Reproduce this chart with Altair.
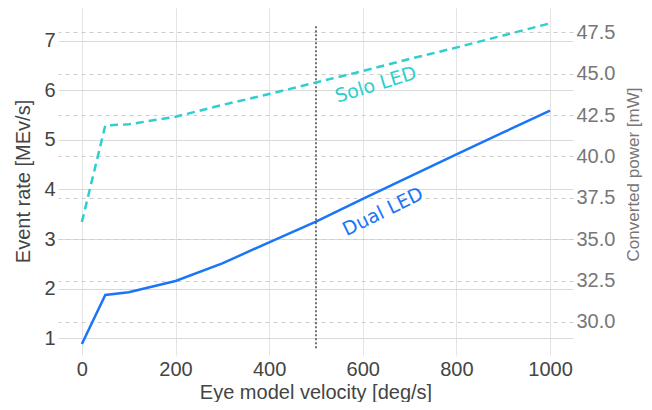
import altair as alt
import pandas as pd

# ---- data ----
velocity = [0, 50, 100, 200, 300, 400, 500, 600, 700, 800, 900, 1000]
dual_rate = [0.885, 1.873, 1.93, 2.155, 2.51, 2.935, 3.35, 3.81, 4.26, 4.71, 5.15, 5.59]
solo_power = [36.04, 41.87, 41.94, 42.40, 43.11, 43.77, 44.47, 45.16, 45.89, 46.58, 47.31, 48.04]

marker_velocity = [500]
marker_rate_low = [0.8]
marker_rate_high = [7.3]

x_ticks = [0, 200, 400, 600, 800, 1000]
left_ticks = [1, 2, 3, 4, 5, 6, 7]
right_ticks = [30.0, 32.5, 35.0, 37.5, 40.0, 42.5, 45.0, 47.5]

solo_label = ["Solo LED"]
solo_label_velocity = [628]
solo_label_rate = [6.11]
dual_label = ["Dual LED"]
dual_label_velocity = [643]
dual_label_rate = [3.55]

# ---- tables ----
dual_df = pd.DataFrame({"v": velocity, "rate": dual_rate})
solo_df = pd.DataFrame({"v": velocity, "power": solo_power})
marker_df = pd.DataFrame({"v": marker_velocity, "rate": marker_rate_low, "rate2": marker_rate_high})
solo_lab_df = pd.DataFrame({"v": solo_label_velocity, "rate": solo_label_rate, "t": solo_label})
dual_lab_df = pd.DataFrame({"v": dual_label_velocity, "rate": dual_label_rate, "t": dual_label})

W, H = 515, 347
FONT = "Liberation Sans"
BLUE = "#1a75f8"
TEAL = "#2dcfcf"

x_scale = alt.Scale(domain=[-51, 1049], nice=False, zero=False)
left_scale = alt.Scale(domain=[0.663, 7.659], nice=False, zero=False)
right_scale = alt.Scale(domain=[28.006, 48.968], nice=False, zero=False)

x_axis = alt.Axis(
    values=x_ticks, format="d", title="Eye model velocity [deg/s]", grid=True, gridColor="#e3e3e3",
    domain=False, ticks=False, labelPadding=4, labelFont=FONT, labelFontSize=20,
    labelColor="#444", titleFont=FONT, titleFontSize=20, titleFontWeight="normal",
    titleColor="#444", titleBaseline="alphabetic", titleAlign="center",
    titleX=W / 2, titleY=43,
)
left_axis = alt.Axis(
    values=left_ticks, title="Event rate [MEv/s]", grid=True, gridColor="#dadada",
    domain=False, ticks=False, labelPadding=3, labelFont=FONT, labelFontSize=20,
    labelColor="#444", titleFont=FONT, titleFontSize=20, titleFontWeight="normal",
    titleColor="#444", titleAngle=270, titleAlign="center", titleBaseline="alphabetic",
    titleX=-29, titleY=173,
)
right_axis = alt.Axis(
    orient="right", values=right_ticks, format=".1f", title="Converted power [mW]",
    grid=True, gridColor="#cccccc", gridDash=[4, 4], domain=False, ticks=False,
    labelPadding=3, labelFont=FONT, labelFontSize=20, labelColor="#777",
    titleFont=FONT, titleFontSize=17, titleFontWeight="normal", titleColor="#777",
    titleAngle=270, titleAlign="center", titleBaseline="alphabetic",
    titleX=65, titleY=166,
)

X = alt.X("v:Q", scale=x_scale, axis=x_axis)
Y_left = alt.Y("rate:Q", scale=left_scale, axis=left_axis)

dual = alt.Chart(dual_df).mark_line(color=BLUE, strokeWidth=2.5).encode(x=X, y=Y_left)
marker = alt.Chart(marker_df).mark_rule(color="#444", strokeWidth=1.5, strokeDash=[2, 2]).encode(
    x=X, y=Y_left, y2="rate2:Q"
)
solo_text = alt.Chart(solo_lab_df).mark_text(
    font="DejaVu Sans", fontSize=19, angle=343, color=TEAL, align="center", baseline="middle"
).encode(x=X, y=Y_left, text="t:N")
dual_text = alt.Chart(dual_lab_df).mark_text(
    font="DejaVu Sans", fontSize=19, angle=334, color=BLUE, align="center", baseline="middle"
).encode(x=X, y=Y_left, text="t:N")

left_group = alt.layer(dual, marker, solo_text, dual_text)

solo = alt.Chart(solo_df).mark_line(color=TEAL, strokeWidth=2.5, strokeDash=[8, 5]).encode(
    x=X, y=alt.Y("power:Q", scale=right_scale, axis=right_axis)
)

chart = (
    alt.layer(left_group, solo)
    .resolve_scale(y="independent")
    .properties(
        width=W, height=H,
        autosize=alt.AutoSizeParams(type="none"),
        padding={"left": 50, "top": 0, "right": 71, "bottom": 47},
        background="white",
    )
    .configure_view(stroke=None)
)

chart.save("out.html", embed_options={"renderer": "svg", "actions": False})
